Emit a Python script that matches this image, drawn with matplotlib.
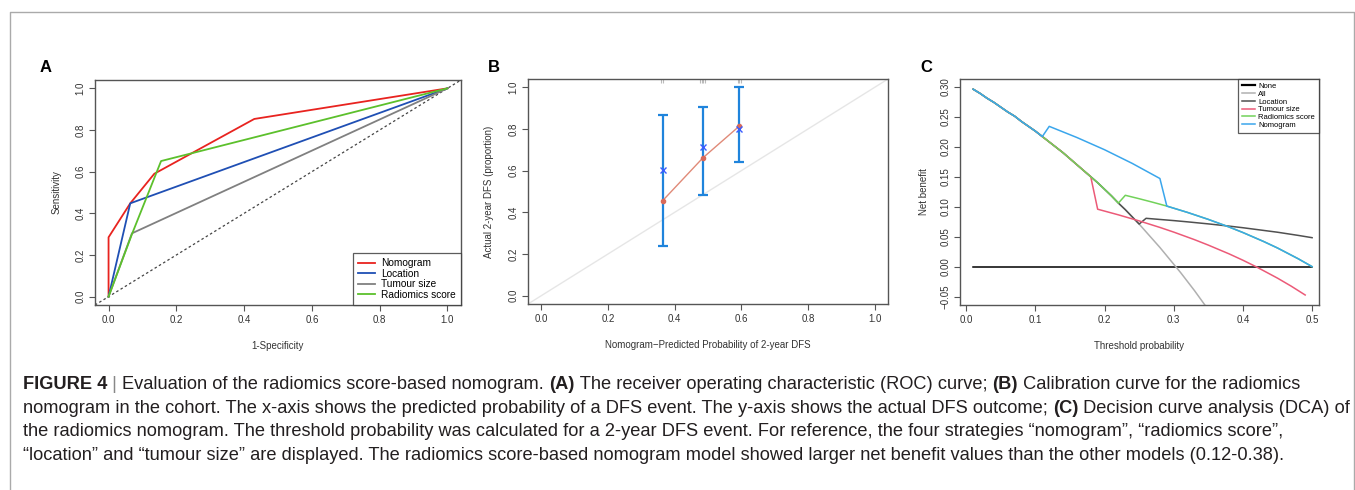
import matplotlib
matplotlib.use("Agg")
import matplotlib.pyplot as plt
from matplotlib.lines import Line2D

plt.rcParams['font.family'] = ['Liberation Sans', 'DejaVu Sans']

# panel A: ROC curves (1-specificity, sensitivity)
roc_names = ["Nomogram", "Location", "Tumour size", "Radiomics score"]
roc_colors = ["#e8231f", "#1f4fb4", "#808080", "#5cc02c"]
roc_x = [[0, 0, 0.064, 0.135, 0.43, 1.0],
         [0, 0.064, 1.0],
         [0, 0.069, 1.0],
         [0, 0.069, 0.155, 1.0]]
roc_y = [[0, 0.285, 0.448, 0.59, 0.853, 1.0],
         [0, 0.448, 1.0],
         [0, 0.304, 1.0],
         [0, 0.30, 0.651, 1.0]]

# panel B: calibration
cal_pred = [0.364, 0.485, 0.594]
cal_obs = [0.456, 0.662, 0.814]
cal_corr = [0.603, 0.715, 0.80]
cal_lo = [0.238, 0.485, 0.643]
cal_hi = [0.867, 0.906, 1.0]
rug_x = [0.358, 0.366, 0.476, 0.481, 0.486, 0.491, 0.589, 0.594, 0.599]

# panel C: decision curves
dca_names = ["None", "All", "Location", "Tumour size", "Radiomics score", "Nomogram"]
dca_colors = ["#000000", "#b0b0b0", "#505050", "#ec5a78", "#72d25a", "#3aa6ec"]
none_x = [0.01, 0.50]
none_y = [0.0, 0.0]
all_x = [0.01, 0.02, 0.03, 0.04, 0.05, 0.06, 0.07, 0.08, 0.09, 0.10, 0.11, 0.12,
         0.13, 0.14, 0.15, 0.16, 0.17, 0.18, 0.19, 0.20, 0.21, 0.22, 0.23, 0.24,
         0.25, 0.26, 0.27, 0.28, 0.29, 0.30, 0.31, 0.32, 0.33, 0.34, 0.35, 0.36]
all_y = [0.296, 0.289, 0.281, 0.274, 0.266, 0.258, 0.251, 0.242, 0.234, 0.226, 0.217, 0.208,
         0.199, 0.190, 0.180, 0.170, 0.160, 0.150, 0.140, 0.129, 0.118, 0.106, 0.095, 0.083,
         0.071, 0.058, 0.045, 0.032, 0.018, 0.004, -0.010, -0.025, -0.040, -0.056, -0.072, -0.089]
location_x = all_x[:25] + [0.26, 0.28, 0.30, 0.32, 0.35, 0.38, 0.40, 0.43, 0.45, 0.48, 0.50]
location_y = all_y[:25] + [0.0806, 0.0787, 0.0768, 0.0747, 0.0713, 0.0676, 0.0649, 0.0604,
                           0.0574, 0.0521, 0.0483]
tumour_x = all_x[:18] + [0.19, 0.22, 0.25, 0.28, 0.30, 0.33, 0.35, 0.38, 0.40, 0.42,
                         0.45, 0.47, 0.49]
tumour_y = all_y[:18] + [0.0958, 0.0864, 0.0763, 0.0654, 0.0576, 0.0450, 0.0359, 0.0213,
                         0.0107, -0.0007, -0.0192, -0.0327, -0.0473]
tail_x = [0.32, 0.35, 0.38, 0.40, 0.43, 0.45, 0.48, 0.50]
tail_y = [0.0904, 0.0788, 0.0661, 0.0569, 0.0419, 0.0311, 0.0131, 0.0]
radiomics_x = all_x[:22] + [0.23, 0.25, 0.27, 0.29] + tail_x
radiomics_y = all_y[:22] + [0.119, 0.1133, 0.1073, 0.101] + tail_y
nomogram_x = all_x[:11] + [0.12, 0.16, 0.20, 0.24, 0.28, 0.29] + tail_x
nomogram_y = all_y[:11] + [0.234, 0.2154, 0.195, 0.1722, 0.147, 0.101] + tail_y

W, H = 1355, 490
fig = plt.figure(figsize=(W / 100, H / 100), dpi=100)

def add_ax(x0, x1, y0, y1):
    return fig.add_axes([x0 / W, 1 - y1 / H, (x1 - x0) / W, (y1 - y0) / H])

def r_style(ax):
    for s in ax.spines.values():
        s.set_color("#555555")
        s.set_linewidth(1.0)
    ax.tick_params(direction="out", length=4, width=0.8, color="#555555",
                   labelsize=7, labelcolor="#333333", pad=3)
    for lab in ax.get_yticklabels():
        lab.set_rotation(90)
        lab.set_va("center")

# outer frame
fig.add_artist(Line2D([10 / W, 10 / W, 1354 / W, 1354 / W], [0, 1 - 12 / H, 1 - 12 / H, 0],
                      transform=fig.transFigure, color="#aaaaaa", lw=1))

# ---- A ----
axA = add_ax(95, 461, 80, 305)
axA.axline((0, 0), (1, 1), color="#444444", lw=0.9, ls=(0, (2, 2)))
for xs, ys, c, n in zip(roc_x, roc_y, roc_colors, roc_names):
    axA.plot(xs, ys, color=c, lw=1.3, label=n)
axA.set_xlim(-0.04, 1.04)
axA.set_ylim(-0.04, 1.04)
axA.set_xticks([0, 0.2, 0.4, 0.6, 0.8, 1.0])
axA.set_yticks([0, 0.2, 0.4, 0.6, 0.8, 1.0])
axA.set_xticklabels(["0.0", "0.2", "0.4", "0.6", "0.8", "1.0"])
axA.set_yticklabels(["0.0", "0.2", "0.4", "0.6", "0.8", "1.0"])
axA.set_xlabel("1-Specificity", fontsize=7, color="#333333", labelpad=12)
axA.set_ylabel("Sensitivity", fontsize=7, color="#333333", labelpad=10)
r_style(axA)
legA = axA.legend(loc="lower right", fontsize=7.3, frameon=True, fancybox=False,
                  edgecolor="#333333", borderaxespad=0, handlelength=1.7,
                  handletextpad=0.6, labelspacing=0.05, borderpad=0.5)
legA.get_frame().set_linewidth(0.9)

# ---- B ----
axB = add_ax(528, 888, 79, 304)
axB.axline((0, 0), (1, 1), color="#e6e6e6", lw=1)
axB.vlines(rug_x, 1.022, 1.04, color="#bbbbbb", lw=0.8)
axB.errorbar(cal_pred, cal_corr, yerr=[[c - l for c, l in zip(cal_corr, cal_lo)],
                                      [h - c for c, h in zip(cal_corr, cal_hi)]],
             fmt="none", ecolor="#1f84dc", elinewidth=1.6, capsize=3.5, capthick=1.6)
axB.plot(cal_pred, cal_obs, color="#e08a78", lw=1, marker="o", ms=3,
         mfc="#d86a5a", mec="#d86a5a")
axB.plot(cal_pred, cal_corr, ls="none", marker="x", ms=4, mew=1, color="#3a5cff")
axB.set_xlim(-0.04, 1.04)
axB.set_ylim(-0.04, 1.04)
axB.set_xticks([0, 0.2, 0.4, 0.6, 0.8, 1.0])
axB.set_yticks([0, 0.2, 0.4, 0.6, 0.8, 1.0])
axB.set_xticklabels(["0.0", "0.2", "0.4", "0.6", "0.8", "1.0"])
axB.set_yticklabels(["0.0", "0.2", "0.4", "0.6", "0.8", "1.0"])
axB.set_xlabel("Nomogram\u2212Predicted Probability of 2-year DFS", fontsize=7,
               color="#333333", labelpad=12)
axB.set_ylabel("Actual 2-year DFS (proportion)", fontsize=7, color="#333333", labelpad=10)
r_style(axB)

# ---- C ----
axC = add_ax(960, 1319, 79, 305)
dca_x = [none_x, all_x, location_x, tumour_x, radiomics_x, nomogram_x]
dca_y = [none_y, all_y, location_y, tumour_y, radiomics_y, nomogram_y]
for xs, ys, c, n in zip(dca_x, dca_y, dca_colors, dca_names):
    axC.plot(xs, ys, color=c, lw=1.1, label=n)
axC.set_xlim(-0.009, 0.51)
axC.set_ylim(-0.064, 0.313)
axC.set_xticks([0.0, 0.1, 0.2, 0.3, 0.4, 0.5])
axC.set_xticklabels(["0.0", "0.1", "0.2", "0.3", "0.4", "0.5"])
axC.set_yticks([-0.05, 0, 0.05, 0.10, 0.15, 0.20, 0.25, 0.30])
axC.set_yticklabels(["\u22120.05", "0.00", "0.05", "0.10", "0.15", "0.20", "0.25", "0.30"])
axC.set_xlabel("Threshold probability", fontsize=7, color="#333333", labelpad=12)
axC.set_ylabel("Net benefit", fontsize=7, color="#333333", labelpad=8)
r_style(axC)
legC = axC.legend(loc="upper right", fontsize=5.5, frameon=True, fancybox=False,
                  edgecolor="#333333", borderaxespad=0, handlelength=1.7,
                  handletextpad=0.5, labelspacing=0.05, borderpad=0.5)
legC.get_frame().set_linewidth(0.9)
legC.get_lines()[0].set_linewidth(1.6)

# panel letters
for lx, lt in [(40, "A"), (488, "B"), (920, "C")]:
    fig.text(lx / W, 1 - 68 / H, lt, fontsize=12, fontweight="bold", va="center", ha="left")

# caption with mixed weights
caption = [
    [("FIGURE 4", "bold", "#231f20"), (" | ", "normal", "#888888"),
     ("Evaluation of the radiomics score-based nomogram. ", "normal", "#231f20"),
     ("(A)", "bold", "#231f20"),
     (" The receiver operating characteristic (ROC) curve; ", "normal", "#231f20"),
     ("(B)", "bold", "#231f20"),
     (" Calibration curve for the radiomics", "normal", "#231f20")],
    [("nomogram in the cohort. The x-axis shows the predicted probability of a DFS event. "
      "The y-axis shows the actual DFS outcome; ", "normal", "#231f20"),
     ("(C)", "bold", "#231f20"),
     (" Decision curve analysis (DCA) of", "normal", "#231f20")],
    [("the radiomics nomogram. The threshold probability was calculated for a 2-year DFS "
      "event. For reference, the four strategies \u201cnomogram\u201d, \u201cradiomics score\u201d,",
      "normal", "#231f20")],
    [("\u201clocation\u201d and \u201ctumour size\u201d are displayed. The radiomics score-based "
      "nomogram model showed larger net benefit values than the other models (0.12-0.38).",
      "normal", "#231f20")],
]
baselines = [389, 413, 436, 460]
fig.canvas.draw()
renderer = fig.canvas.get_renderer()
for line, by in zip(caption, baselines):
    x = 23
    for txt, wt, col in line:
        t = fig.text(x / W, 1 - by / H, txt, fontsize=13.15, fontweight=wt, color=col,
                     va="baseline", ha="left")
        bb = t.get_window_extent(renderer=renderer)
        x += bb.width

fig.savefig("out.png", dpi=100)
